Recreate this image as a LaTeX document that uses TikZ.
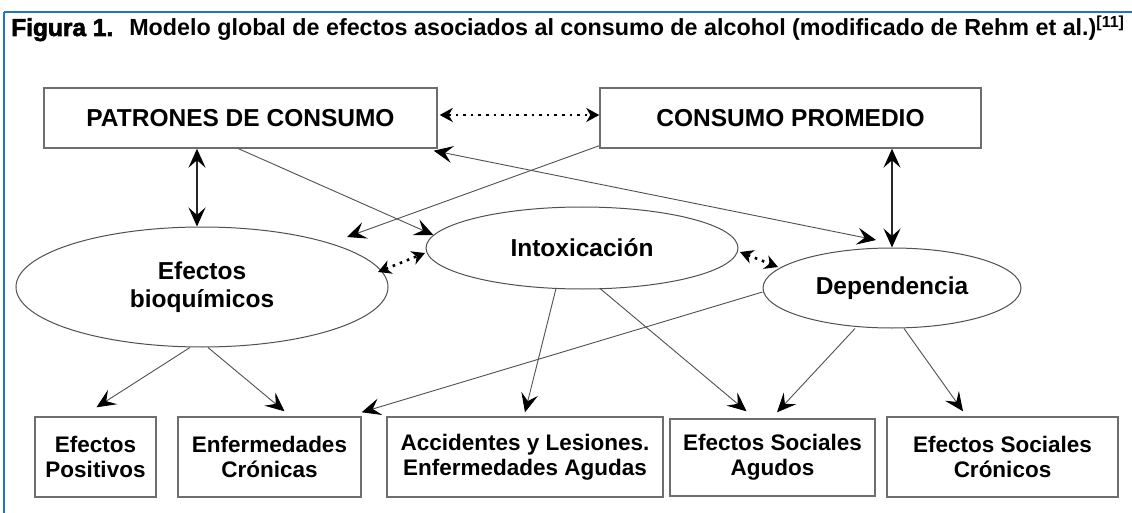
\documentclass[tikz,border=0pt]{standalone}
\usepackage{fontspec}
\setmainfont{Liberation Sans}
\newfontfamily\heavyfont[FakeBold=2.5]{Liberation Sans Bold}
\usetikzlibrary{shapes.geometric,arrows.meta,calc}
\definecolor{frameblue}{RGB}{30,120,190}
\definecolor{boxgray}{RGB}{110,110,110}
\definecolor{linegray}{RGB}{80,80,80}
\tikzset{
  headtip/.tip={Stealth[length=19pt,width=17pt,inset=7.5pt,color=black]},
  dottip/.tip={Stealth[length=13pt,width=14pt,inset=4pt,color=black]},
  boxnode/.style={draw=boxgray,line width=1.4pt,inner sep=0pt,align=center,
    font=\fontsize{22.5}{25}\selectfont\bfseries},
  topbox/.style={draw=boxgray,line width=1.4pt,inner sep=0pt,align=center,
    font=\fontsize{24.5}{28}\selectfont\bfseries},
  ellnode/.style={ellipse,draw=linegray,line width=1pt,inner sep=0pt,align=center,
    font=\fontsize{24.5}{28}\selectfont\bfseries},
  conn/.style={draw=linegray,line width=0.9pt,-headtip},
  bothconn/.style={draw=linegray,line width=0.9pt,headtip-headtip},
  vdbl/.style={draw=black!85,line width=1.3pt,headtip-headtip},
  dotconn/.style={draw=black,line width=2.6pt,dash pattern=on 2.6pt off 5pt,
    dottip-dottip},
}
\begin{document}
\begin{tikzpicture}[x=1pt,y=-1pt]
\useasboundingbox (0,0) rectangle (1132,513);
\fill[white] (0,0) rectangle (1132,513);
% frame
\draw[frameblue,line width=1.8pt] (4,12) -- (1132,12);
\draw[frameblue,line width=1.5pt] (4,12) -- (4,513);
% title
\node[anchor=base west,inner sep=0pt] (title) at (11,36)
  {\fontsize{23.3}{26}\selectfont{\fontsize{24.5}{26}\selectfont\heavyfont Figura 1.}\hspace{16pt}\bfseries Modelo global de efectos asociados al consumo de alcohol (modificado de Rehm et al.)\raisebox{8pt}{\fontsize{16}{16}\selectfont [11]}};
% top boxes
\node[topbox,minimum width=393pt,minimum height=60pt] (pat) at (240.5,118) {PATRONES DE CONSUMO};
\node[topbox,minimum width=381pt,minimum height=60pt] (cons) at (790.5,118) {CONSUMO PROMEDIO};
% ellipses
\node[ellnode,minimum width=372pt,minimum height=120pt] (bio) at (202,287) {Efectos\\bioquímicos};
\node[ellnode,minimum width=312pt,minimum height=82pt] (intox) at (582,248) {Intoxicación};
\node[ellnode,minimum width=258pt,minimum height=80pt] (dep) at (892,288) {Dependencia};
% bottom boxes
\node[boxnode,minimum width=121pt,minimum height=80pt] (ep) at (95.5,457) {Efectos\\Positivos};
\node[boxnode,minimum width=183pt,minimum height=80pt] (ec) at (269.5,457) {Enfermedades\\Crónicas};
\node[boxnode,minimum width=276pt,minimum height=80pt] (acc) at (525,457) {Accidentes y Lesiones.\\Enfermedades Agudas};
\node[boxnode,minimum width=205pt,minimum height=77pt] (esa) at (772.5,457.5) {Efectos Sociales\\Agudos};
\node[boxnode,minimum width=231pt,minimum height=80pt] (esc) at (1002.5,457) {Efectos Sociales\\Crónicos};
% vertical double arrows
\draw[vdbl] ($(bio.north |- pat.south)+(-5,0)$) -- ($(bio.north)+(-5,0)$);
\draw[vdbl] (dep.north |- cons.south) -- (dep.north);
% dotted arrows
\draw[dotconn] ($(pat.east)+(2,-3)$) -- ($(cons.west)+(0,-3)$);
\draw[dotconn] ($(bio.center)+(176,-15)$) -- ($(intox.center)+(-157,5)$);
\draw[dotconn] ($(intox.center)+(158,4)$) -- ($(dep.center)+(-114,-21)$);
% thin connectors
\draw[conn] ($(pat.south)+(-2,0)$) -- (intox.175);
\draw[conn] ($(cons.south west)+(0,-3)$) -- ($(bio.center)+(145,-50)$);
\draw[bothconn] ($(pat.south east)+(-4,2)$) -- ($(dep.center)+(-16,-48)$);
\draw[conn] ($(bio.south)+(-12,0)$) -- ($(ep.north)+(1,-9)$);
\draw[conn] ($(bio.south)+(6,0)$) -- ($(ec.north)+(15,-5)$);
\draw[conn] ($(dep.west)+(0,4)$) -- ($(ec.north east)+(0,-4)$);
\draw[conn] ($(intox.south)+(-26,-1)$) -- ($(acc.north)+(0,-4)$);
\draw[conn] ($(intox.south)+(18,-1)$) -- ($(esa.north)+(-26,-7)$);
\draw[conn] ($(dep.south)+(-37,0)$) -- ($(esa.north)+(4.5,-6)$);
\draw[conn] ($(dep.south)+(12,0)$) -- ($(esc.north)+(-39.5,-5)$);
\end{tikzpicture}
\end{document}
